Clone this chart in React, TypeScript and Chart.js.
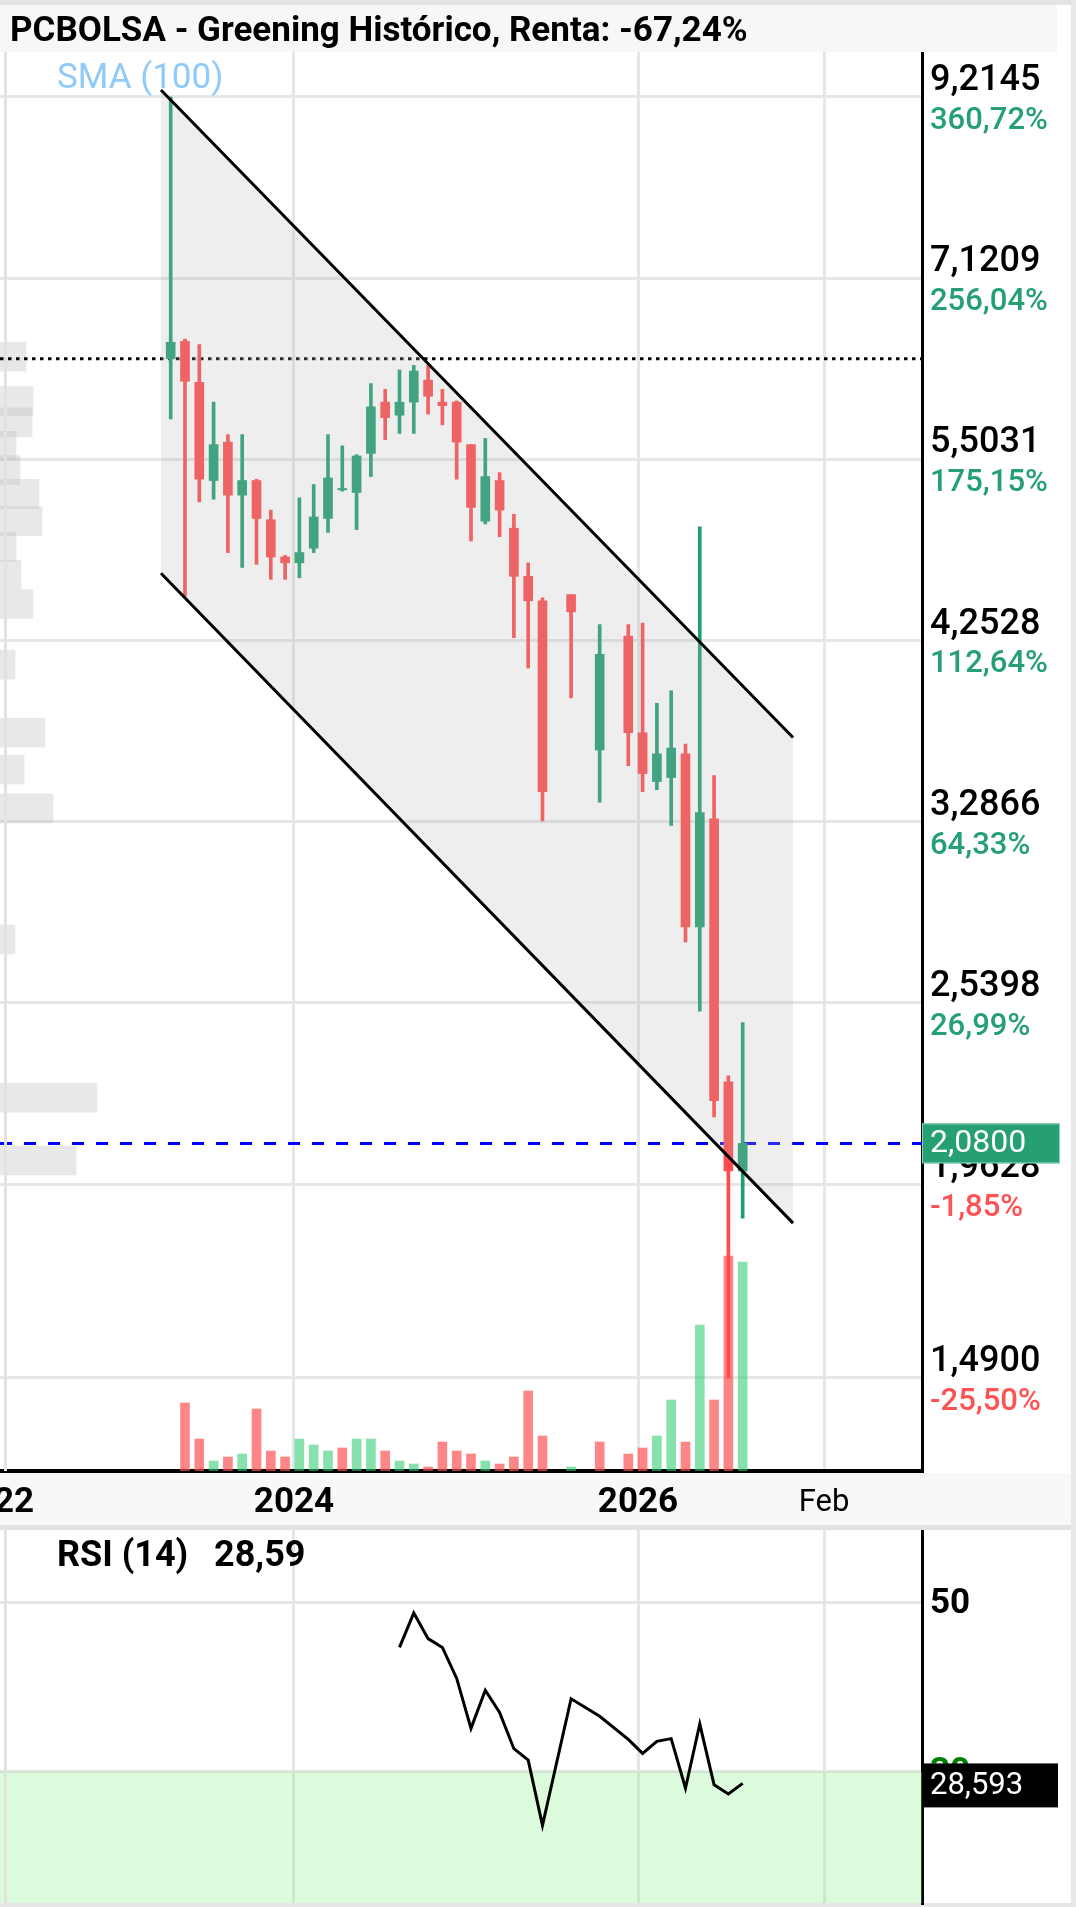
import React, { useEffect, useRef } from 'react';
import { Chart, registerables } from 'chart.js';

Chart.register(...registerables);

const FONT = 'Roboto, "Noto Sans", "DejaVu Sans", sans-serif';

// ---------------- data ----------------
const title = 'PCBOLSA - Greening Histórico, Renta: -67,24%';

const months = [
  '2023-04', '2023-05', '2023-06', '2023-07', '2023-08', '2023-09', '2023-10', '2023-11', '2023-12',
  '2024-01', '2024-02', '2024-03', '2024-04', '2024-05', '2024-06', '2024-07', '2024-08', '2024-09',
  '2024-10', '2024-11', '2024-12', '2025-01', '2025-02', '2025-03', '2025-04', '2025-05', '2025-06',
  '2025-07', '2025-08', '2025-09', '2025-10', '2025-11', '2025-12', '2026-01', '2026-02', '2026-03',
  '2026-04', '2026-05', '2026-06', '2026-07', '2026-08',
];

const openPrices = [6.35, 6.51, 6.14, 5.34, 5.64, 5.23, 5.34, 5.05, 4.79, 4.75, 4.85, 5.06, 5.27, 5.25, 5.55, 5.97, 5.86, 5.97, 6.16, 5.97, 5.97, 5.62, 5.04, 5.34, 4.99, 4.66, 4.50, null, 4.54, null, 3.64, null, 4.28, 3.73, 3.48, 3.50, 3.62, 2.83, 3.30, 2.27, 2.00];
const highPrices = [9.2145, 6.53, 6.48, 5.97, 5.70, 5.70, 5.35, 5.12, 4.80, 5.21, 5.31, 5.70, 5.61, 5.54, 6.13, 6.08, 6.25, 6.29, 6.29, 6.08, 5.98, 5.62, 5.67, 5.40, 5.09, 4.75, 4.52, null, 4.54, null, 4.35, null, 4.35, 4.36, 3.89, 3.96, 3.67, 5.00, 3.51, 2.29, 2.47];
const lowPrices = [5.83, 4.53, 5.18, 5.20, 4.82, 4.72, 4.74, 4.64, 4.64, 4.65, 4.82, 4.96, 5.26, 4.98, 5.37, 5.66, 5.71, 5.71, 5.87, 5.78, 5.35, 4.90, 5.02, 4.93, 4.27, 4.09, 3.29, null, 3.92, null, 3.38, null, 3.56, 3.43, 3.44, 3.27, 2.77, 2.51, 2.16, 1.49, 1.87];
const closePrices = [6.50, 6.15, 5.35, 5.62, 5.23, 5.34, 5.06, 4.79, 4.75, 4.82, 5.07, 5.36, 5.28, 5.53, 5.93, 5.84, 5.97, 6.24, 6.02, 5.94, 5.64, 5.14, 5.37, 5.12, 4.66, 4.50, 3.43, null, 4.43, null, 4.17, null, 3.73, 3.52, 3.62, 3.65, 2.83, 3.33, 2.21, 2.00, 2.08];

const volumes = [null, 68, 32, 10, 14, 17, 62, 20, 14, 32, 26, 20, 23, 32, 32, 20, 10, 7, 4, 29, 20, 17, 10, 7, 14, 80, 35, null, 4, null, 29, null, 17, 23, 35, 71, 29, 146, 71, 215, 209];
const volumeUp = [null, false, false, true, false, true, false, false, false, true, true, true, false, true, true, false, true, true, false, false, false, false, true, false, false, false, false, null, true, null, false, null, false, false, true, true, false, true, false, false, true];

const profilePrices = [6.37, 5.98, 5.80, 5.61, 5.42, 5.24, 5.04, 4.86, 4.67, 4.48, 4.11, 3.73, 3.54, 3.35, 2.78, 2.22, 2.03];
const profileVolumes = [26, 33, 32, 16, 20, 39, 42, 16, 21, 33, 15, 45, 24, 53, 15, 97, 76];

const rsiValues = [null, null, null, null, null, null, null, null, null, null, null, null, null, null, null, null,
  44.64, 48.71, 45.68, 44.64, 40.98, 35.09, 39.59, 36.98, 32.69, 31.34, 23.64, null, 38.58, null, 36.51, null,
  33.79, 32.13, 33.56, 33.88, 28.02, 35.60, 28.43, 27.35, 28.593];

const priceTicks = [9.2145, 7.1209, 5.5031, 4.2528, 3.2866, 2.5398, 1.9628, 1.49];
const priceTickLabels = ['9,2145', '7,1209', '5,5031', '4,2528', '3,2866', '2,5398', '1,9628', '1,4900'];
const pctTickLabels = ['360,72%', '256,04%', '175,15%', '112,64%', '64,33%', '26,99%', '-1,85%', '-25,50%'];

const xTickPositions = [-12.36, 8.62, 32.68, 45.69];
const xTickLabels = ['2022', '2024', '2026', 'Feb'];

const rsiTicks = [50, 30];
const rsiTickLabels = ['50', '30'];
const rsiOversold = 30;

const channelX = [-0.68, 43.52];
const channelUpper = [9.307, 3.705];
const channelLower = [4.68, 1.857];

const startPrice = 6.35;
const lastPrice = 2.08;
const rsiLast = 28.593;

// ---------------- axis ranges / styles ----------------
const X_MIN = -11.937;
const X_MAX = 52.54;
const Y_MIN = 1.3052;
const Y_MAX = 9.8236;
const RSI_MIN = 14.48;
const RSI_MAX = 58.5;

const GREEN = '#1f9e6f';
const RED = '#ff4b4b';
const GRID = '#e6e6e6';
const TXT_GREEN = '#26a073';
const TXT_RED = '#ff5252';

const fmt = (v: number, d: number) => v.toFixed(d).replace('.', ',');

function MainChart() {
  const ref = useRef<HTMLCanvasElement | null>(null);
  useEffect(() => {
    const canvas = ref.current;
    if (!canvas) return;
    const all = months.map((_, i) => i);
    const slots = all.filter((i) => openPrices[i] !== null);
    const isUp = (i: number) => (closePrices[i] as number) >= (openPrices[i] as number);
    const candleColors = slots.map((i) => (isUp(i) ? GREEN : RED));
    const volSlots = all.filter((i) => volumes[i] !== null);

    const labelPlugin = {
      id: 'mainLabels',
      afterDraw(chart: any) {
        const { ctx, chartArea } = chart;
        const y = chart.scales.y;
        const x = chart.scales.x;
        ctx.save();
        ctx.textAlign = 'left';
        ctx.textBaseline = 'middle';
        priceTicks.forEach((t, i) => {
          const py = y.getPixelForValue(t);
          ctx.fillStyle = '#000';
          ctx.font = '500 36px ' + FONT;
          ctx.fillText(priceTickLabels[i], chartArea.right + 8, py - 16);
          ctx.fillStyle = pctTickLabels[i].startsWith('-') ? TXT_RED : TXT_GREEN;
          ctx.font = '500 31px ' + FONT;
          ctx.fillText(pctTickLabels[i], chartArea.right + 8, py + 24);
        });
        const pt = y.getPixelForValue(lastPrice);
        ctx.fillStyle = '#26a073';
        ctx.fillRect(chartArea.right, pt - 20, 138, 40);
        ctx.strokeStyle = '#8fd4b8';
        ctx.lineWidth = 1;
        ctx.strokeRect(chartArea.right + 0.5, pt - 19.5, 137, 39);
        ctx.fillStyle = '#fff';
        ctx.font = '32px ' + FONT;
        ctx.fillText(fmt(lastPrice, 4), chartArea.right + 8, pt + 1);

        ctx.textAlign = 'center';
        xTickPositions.forEach((v, i) => {
          const px = x.getPixelForValue(v);
          ctx.font = (xTickLabels[i] === 'Feb' ? '31px ' : 'bold 35px ') + FONT;
          ctx.fillStyle = '#000';
          ctx.fillText(xTickLabels[i], px, chartArea.bottom + 32);
        });
        ctx.restore();
      },
    };

    const chart = new Chart(canvas, {
      type: 'bar',
      data: {
        datasets: [
          {
            type: 'bar', label: 'profile', indexAxis: 'y', xAxisID: 'xp', yAxisID: 'y',
            data: profilePrices.map((p, k) => ({ x: profileVolumes[k], y: p })),
            backgroundColor: 'rgba(190,190,190,0.35)', barThickness: 29, grouped: false, order: 20,
          },
          {
            type: 'line', label: 'start', xAxisID: 'x', yAxisID: 'y',
            data: [{ x: X_MIN, y: startPrice }, { x: X_MAX, y: startPrice }],
            borderColor: '#000', borderWidth: 3, borderDash: [3.5, 4.5], pointRadius: 0, fill: false, order: 15,
          },
          {
            type: 'line', label: 'last', xAxisID: 'x', yAxisID: 'y',
            data: [{ x: X_MIN, y: lastPrice }, { x: X_MAX, y: lastPrice }],
            borderColor: '#0000ff', borderWidth: 3, borderDash: [12, 12], pointRadius: 0, fill: false, order: 15,
          },
          {
            type: 'bar', label: 'volume', xAxisID: 'x', yAxisID: 'yv',
            data: volSlots.map((i) => ({ x: i, y: volumes[i] })),
            backgroundColor: volSlots.map((i) => (volumeUp[i] ? 'rgba(46,204,113,0.58)' : 'rgba(255,75,75,0.67)')),
            barThickness: 9, grouped: false, order: 12,
          },
          {
            type: 'bar', label: 'wicks', xAxisID: 'x', yAxisID: 'y',
            data: slots.map((i) => ({ x: i, y: [lowPrices[i], highPrices[i]] })),
            backgroundColor: candleColors, barThickness: 3, grouped: false, order: 11,
          },
          {
            type: 'bar', label: 'bodies', xAxisID: 'x', yAxisID: 'y',
            data: slots.map((i) => ({ x: i, y: [openPrices[i], closePrices[i]] })),
            backgroundColor: candleColors, barThickness: 9, grouped: false, order: 10,
          },
          {
            type: 'line', label: 'channelTop', xAxisID: 'x', yAxisID: 'y',
            data: channelX.map((x, k) => ({ x, y: channelUpper[k] })),
            borderColor: '#000', borderWidth: 3, pointRadius: 0, fill: false, order: 1,
          },
          {
            type: 'line', label: 'channelBottom', xAxisID: 'x', yAxisID: 'y',
            data: channelX.map((x, k) => ({ x, y: channelLower[k] })),
            borderColor: '#000', borderWidth: 3, pointRadius: 0, fill: '-1',
            backgroundColor: 'rgba(182,182,182,0.233)', order: 1,
          },
        ],
      },
      options: {
        responsive: false,
        animation: false,
        devicePixelRatio: 1,
        events: [],
        layout: { padding: 0 },
        plugins: { legend: { display: false }, tooltip: { enabled: false } },
        scales: {
          x: {
            type: 'linear', position: 'bottom', min: X_MIN, max: X_MAX, offset: false,
            grid: { color: GRID, lineWidth: 3, drawTicks: false, offset: false },
            border: { color: '#000', width: 4 },
            ticks: { display: false },
            afterBuildTicks: (s: any) => { s.ticks = xTickPositions.map((v) => ({ value: v })); },
            afterFit: (s: any) => { s.height = 55; },
          },
          xp: { type: 'linear', min: 0, max: 922, display: false, offset: false, grid: { offset: false } },
          y: {
            type: 'logarithmic', position: 'right', min: Y_MIN, max: Y_MAX, bounds: 'data', offset: false,
            grid: { color: GRID, lineWidth: 3, drawTicks: false, offset: false },
            border: { color: '#000', width: 3 },
            ticks: { display: false },
            afterBuildTicks: (s: any) => { s.ticks = priceTicks.map((v) => ({ value: v })); },
            afterFit: (s: any) => { s.width = 154; },
          },
          yv: { type: 'linear', min: 0, max: 1419, display: false, offset: false },
        },
      } as any,
      plugins: [labelPlugin],
    } as any);
    return () => chart.destroy();
  }, []);
  return (
    <canvas ref={ref} width={1076} height={1474}
      style={{ position: 'absolute', left: 0, top: 52, width: 1076, height: 1474 }} />
  );
}

function RsiChart() {
  const ref = useRef<HTMLCanvasElement | null>(null);
  useEffect(() => {
    const canvas = ref.current;
    if (!canvas) return;
    const slots = months.map((_, i) => i).filter((i) => rsiValues[i] !== null);

    const labelPlugin = {
      id: 'rsiLabels',
      afterDraw(chart: any) {
        const { ctx, chartArea } = chart;
        const y = chart.scales.y;
        ctx.save();
        ctx.textAlign = 'left';
        ctx.textBaseline = 'middle';
        rsiTicks.forEach((t, i) => {
          const py = y.getPixelForValue(t);
          ctx.fillStyle = t === rsiOversold ? '#008000' : '#000';
          ctx.font = 'bold 35px ' + FONT;
          ctx.fillText(rsiTickLabels[i], chartArea.right + 8, py + 2);
        });
        const pr = y.getPixelForValue(rsiLast);
        ctx.fillStyle = '#000';
        ctx.fillRect(chartArea.right, pr - 20, 136, 44);
        ctx.fillStyle = '#fff';
        ctx.font = '31px ' + FONT;
        ctx.fillText(fmt(rsiLast, 3), chartArea.right + 8, pr + 3);
        ctx.restore();
      },
    };

    const chart = new Chart(canvas, {
      type: 'line',
      data: {
        datasets: [
          {
            label: 'zone', data: [{ x: X_MIN, y: rsiOversold }, { x: X_MAX, y: rsiOversold }],
            borderColor: 'transparent', pointRadius: 0, fill: 'start',
            backgroundColor: 'rgba(140,240,140,0.3)', order: 2,
          },
          {
            label: 'rsi', data: slots.map((i) => ({ x: i, y: rsiValues[i] })),
            borderColor: '#000', borderWidth: 3, pointRadius: 0, fill: false, order: 1,
          },
        ],
      },
      options: {
        responsive: false,
        animation: false,
        devicePixelRatio: 1,
        events: [],
        layout: { padding: 0 },
        plugins: { legend: { display: false }, tooltip: { enabled: false } },
        scales: {
          x: {
            type: 'linear', min: X_MIN, max: X_MAX, offset: false,
            grid: { color: GRID, lineWidth: 3, drawTicks: false, offset: false },
            border: { display: false },
            ticks: { display: false },
            afterBuildTicks: (s: any) => { s.ticks = xTickPositions.map((v) => ({ value: v })); },
            afterFit: (s: any) => { s.height = 4; },
          },
          y: {
            type: 'linear', position: 'right', min: RSI_MIN, max: RSI_MAX,
            grid: { color: GRID, lineWidth: 3, drawTicks: false },
            border: { color: '#000', width: 3 },
            ticks: { display: false },
            afterBuildTicks: (s: any) => { s.ticks = rsiTicks.map((v) => ({ value: v })); },
            afterFit: (s: any) => { s.width = 154; },
          },
        },
      } as any,
      plugins: [labelPlugin],
    } as any);
    return () => chart.destroy();
  }, []);
  return (
    <canvas ref={ref} width={1076} height={377}
      style={{ position: 'absolute', left: 0, top: 1530, width: 1076, height: 377 }} />
  );
}

export default function App() {
  const abs = (s: any) => ({ position: 'absolute', ...s });
  return (
    <div style={{ position: 'fixed', left: 0, top: 0, width: 1076, height: 1907, background: '#fff', overflow: 'hidden', fontFamily: FONT }}>
      <div style={abs({ left: 0, top: 0, width: 1076, height: 5, background: '#e4e4e4' })} />
      <div style={abs({ left: 0, top: 5, width: 1057, height: 47, background: '#f7f7f7' })} />
      <div style={abs({ left: 0, top: 1473, width: 1071, height: 52, background: '#f8f8f8' })} />
      <div style={abs({ left: 0, top: 1525, width: 1076, height: 5, background: '#e2e2e2' })} />
      <div style={abs({ left: 0, top: 1903, width: 1076, height: 4, background: '#e6e6e6' })} />
      <div style={abs({ left: 1071, top: 0, width: 5, height: 1907, background: '#e8e8e8' })} />
      <MainChart />
      <RsiChart />
      <div style={abs({ left: 4, top: 52, width: 3, height: 1419, background: '#e2e2e2' })} />
      <div style={abs({ left: 4, top: 1530, width: 3, height: 373, background: '#e2e2e2' })} />
      <div style={abs({ left: 10, top: 6, height: 47, lineHeight: '47px', fontWeight: 700, fontSize: 35, color: '#000', whiteSpace: 'nowrap' })}>{title}</div>
      <div style={abs({ left: 57, top: 57, height: 40, lineHeight: '40px', fontSize: 35, color: '#90caf9', whiteSpace: 'nowrap' })}>SMA (100)</div>
      <div style={abs({ left: 57, top: 1534, height: 40, lineHeight: '40px', fontSize: 36, fontWeight: 700, color: '#000', whiteSpace: 'nowrap' })}>RSI (14)</div>
      <div style={abs({ left: 214, top: 1534, height: 40, lineHeight: '40px', fontSize: 36, fontWeight: 700, color: '#000', whiteSpace: 'nowrap' })}>{fmt(rsiLast, 2)}</div>
    </div>
  );
}
